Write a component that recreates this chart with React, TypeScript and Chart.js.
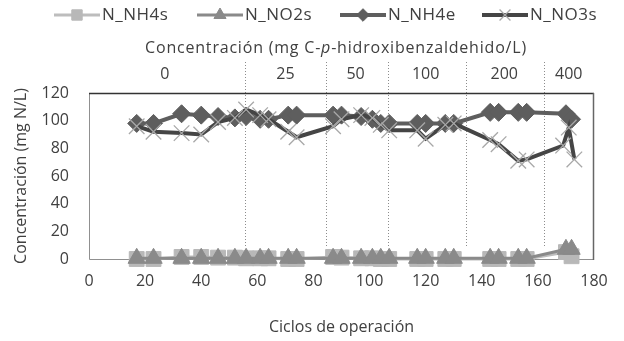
import { useEffect, useRef } from 'react';
import { Chart, registerables } from 'chart.js';
import { drawPoint } from 'chart.js/helpers';

Chart.register(...registerables);

// Cycles of operation (x) for each series
const cycles = [17, 23, 33, 40, 46, 52, 56, 61, 64, 71, 74, 87, 90, 97, 101, 104, 107, 117, 120, 127, 130, 143, 146, 153, 156, 170, 172];
const nh4s = [0, 0, 1.5, 1.5, 1, 1, 0.5, 0.5, 0.5, 0, 0, 1.5, 1, 0.5, 0.5, 0, 0, 0, 0, 0, 0, 0, 0, 0, 0, 5, 2];
const no2s = [0.5, 0.5, 0.5, 0.5, 0.5, 0.5, 0.5, 0.5, 0.5, 0.5, 0.5, 0.5, 0.5, 0.5, 0.5, 0.5, 0.5, 0.5, 0.5, 0.5, 0.5, 0.5, 0.5, 0.5, 0.5, 7, 7];
const nh4e = [98, 98, 105, 104, 103, 102, 103, 101, 101, 104, 104, 104, 104, 103, 101, 98, 98, 98, 98, 98, 98, 106, 106, 106, 106, 105, 101];

const no3sCycles = [17, 23, 33, 40, 46, 52, 56, 61, 64, 71, 74, 87, 90, 97, 101, 104, 107, 117, 120, 127, 130, 143, 146, 153, 156, 169, 171, 173];
const no3s = [96, 92, 91, 90, 99, 102, 108, 104, 101, 92, 88, 96, 101, 104, 102, 97, 93, 93, 87, 97, 98, 86, 83, 71, 72, 82, 95, 72];

// Top axis: p-hydroxybenzaldehyde concentration stages
const concLabels = ['0', '25', '50', '100', '200', '400'];
const concLabelX = [27, 70, 95, 120, 148, 171];
const concBoundaries = [55.6, 84.5, 106.6, 134.4, 162.2];

const seriesNames = ['N_NH4s', 'N_NO2s', 'N_NH4e', 'N_NO3s'];
const xTicks = [0, 20, 40, 60, 80, 100, 120, 140, 160, 180];
const yTicks = [0, 20, 40, 60, 80, 100, 120];

const FONT = "'Open Sans', sans-serif";
const TEXT = '#404040';

const pts = (xs: number[], ys: number[]) => xs.map((x, i) => ({ x, y: ys[i] }));

const styles = [
  { line: '#bdbdbd', point: '#b8b8b8', style: 'rect', r: 10.5, lw: 3, bw: 1 },
  { line: '#8a8a8a', point: '#8a8a8a', style: 'triangle', r: 10, lw: 3, bw: 1 },
  { line: '#5e5e5e', point: '#5e5e5e', style: 'rectRot', r: 9, lw: 4, bw: 1 },
  { line: '#454545', point: '#a8a8a8', style: 'crossRot', r: 11, lw: 4, bw: 1.3 },
];

const overlay = {
  id: 'overlay',
  beforeDatasetsDraw(chart: any) {
    const { ctx, chartArea, scales } = chart;
    const xs = scales.x;
    const ys = scales.y;
    ctx.save();
    ctx.strokeStyle = '#8c8c8c';
    ctx.lineWidth = 1;
    ctx.setLineDash([1, 2]);
    const yBottom = ys.getPixelForValue(8);
    concBoundaries.forEach((b) => {
      const px = Math.round(xs.getPixelForValue(b)) + 0.5;
      ctx.beginPath();
      ctx.moveTo(px, 62);
      ctx.lineTo(px, yBottom);
      ctx.stroke();
    });
    ctx.setLineDash([]);
    // frame
    ctx.strokeStyle = '#909090';
    ctx.lineWidth = 1;
    ctx.beginPath();
    ctx.moveTo(chartArea.left + 0.5, chartArea.top);
    ctx.lineTo(chartArea.left + 0.5, chartArea.bottom + 0.5);
    ctx.lineTo(chartArea.right, chartArea.bottom + 0.5);
    ctx.stroke();
    ctx.strokeStyle = '#333333';
    ctx.lineWidth = 1.5;
    ctx.beginPath();
    ctx.moveTo(chartArea.left, chartArea.top + 0.5);
    ctx.lineTo(chartArea.right, chartArea.top + 0.5);
    ctx.stroke();
    ctx.strokeStyle = '#666666';
    ctx.lineWidth = 1.5;
    ctx.beginPath();
    ctx.moveTo(chartArea.right - 0.5, chartArea.top);
    ctx.lineTo(chartArea.right - 0.5, chartArea.bottom + 1);
    ctx.stroke();
    ctx.restore();
  },
  afterDraw(chart: any) {
    const { ctx, scales } = chart;
    const xs = scales.x;
    ctx.save();
    ctx.fillStyle = TEXT;
    ctx.textBaseline = 'middle';
    // top title with italic p
    const parts = [
      { t: 'Concentración (mg C-', it: false },
      { t: 'p', it: true },
      { t: '-hidroxibenzaldehido/L)', it: false },
    ];
    (ctx as any).letterSpacing = '0.8px';
    const fnt = (it: boolean) => `${it ? 'italic ' : ''}16px ${FONT}`;
    let total = 0;
    parts.forEach((p) => {
      ctx.font = fnt(p.it);
      total += ctx.measureText(p.t).width;
    });
    let cx = 336 - total / 2;
    ctx.textAlign = 'left';
    parts.forEach((p) => {
      ctx.font = fnt(p.it);
      ctx.fillText(p.t, cx, 48);
      cx += ctx.measureText(p.t).width;
    });
    // top concentration labels
    (ctx as any).letterSpacing = '0px';
    ctx.font = `16px ${FONT}`;
    ctx.textAlign = 'center';
    concLabels.forEach((l, i) => {
      ctx.fillText(l, xs.getPixelForValue(concLabelX[i]), 74);
    });
    // legend
    const legendX = [54, 197, 340, 482];
    const ly = 15;
    chart.data.datasets.forEach((ds: any, i: number) => {
      const x0 = legendX[i];
      const st = styles[i];
      ctx.strokeStyle = st.line;
      ctx.lineWidth = st.lw;
      ctx.beginPath();
      ctx.moveTo(x0, ly);
      ctx.lineTo(x0 + 46, ly);
      ctx.stroke();
      ctx.fillStyle = st.point;
      ctx.strokeStyle = st.point;
      ctx.lineWidth = st.bw;
      drawPoint(ctx, {
        pointStyle: st.style,
        radius: st.r * 0.7,
        borderWidth: st.bw,
        rotation: 0,
      } as any, x0 + 23, ly);
      ctx.fillStyle = TEXT;
      ctx.textAlign = 'left';
      ctx.font = `17px ${FONT}`;
      (ctx as any).letterSpacing = '0.5px';
      ctx.fillText(ds.label, x0 + 48, ly);
      (ctx as any).letterSpacing = '0px';
    });
    ctx.restore();
  },
};

export default function App() {
  const ref = useRef<HTMLCanvasElement>(null);
  useEffect(() => {
    if (!ref.current) return;
    const datasets = [
      pts(cycles, nh4s),
      pts(cycles, no2s),
      pts(cycles, nh4e),
      pts(no3sCycles, no3s),
    ].map((data, i) => ({
      label: seriesNames[i],
      data,
      showLine: true,
      borderColor: styles[i].line,
      borderWidth: styles[i].lw,
      pointStyle: styles[i].style,
      pointRadius: styles[i].r,
      pointBackgroundColor: styles[i].point,
      pointBorderColor: styles[i].point,
      pointBorderWidth: styles[i].bw,
      tension: 0,
      clip: false as any,
      order: 3 - i,
    }));
    const chart = new Chart(ref.current, {
      type: 'scatter',
      data: { datasets },
      plugins: [overlay as any],
      options: {
        animation: false,
        responsive: false,
        maintainAspectRatio: false,
        layout: { padding: { left: 0, right: 30, top: 93, bottom: 0 } },
        plugins: {
          legend: { display: false },
          tooltip: { enabled: false },
        },
        scales: {
          x: {
            type: 'linear',
            min: 0,
            max: 180,
            afterFit: (s: any) => { s.height = 82; },
            afterBuildTicks: (s: any) => { s.ticks = xTicks.map((v) => ({ value: v })); },
            grid: { display: false, drawTicks: false },
            border: { display: false },
            ticks: { padding: 13, color: TEXT, font: { family: FONT, size: 16 } },
            title: {
              display: true,
              text: 'Ciclos de operación',
              color: TEXT,
              font: { family: FONT, size: 16 },
              padding: { top: 0, bottom: 4 },
            },
          },
          y: {
            type: 'linear',
            min: 0,
            max: 120,
            afterFit: (s: any) => { s.width = 89; },
            afterBuildTicks: (s: any) => { s.ticks = yTicks.map((v) => ({ value: v })); },
            grid: { display: false, drawTicks: false },
            border: { display: false },
            ticks: { padding: 20, color: TEXT, font: { family: FONT, size: 16 } },
            title: {
              display: true,
              text: 'Concentración (mg N/L)',
              color: TEXT,
              font: { family: FONT, size: 16 },
              padding: { top: 12, bottom: 0 },
            },
          },
        },
      },
    });
    return () => chart.destroy();
  }, []);
  return (
    <div style={{ position: 'fixed', left: 0, top: 0, width: 624, height: 341, background: '#fff' }}>
      <canvas ref={ref} width={624} height={341} style={{ width: 624, height: 341 }} />
    </div>
  );
}
